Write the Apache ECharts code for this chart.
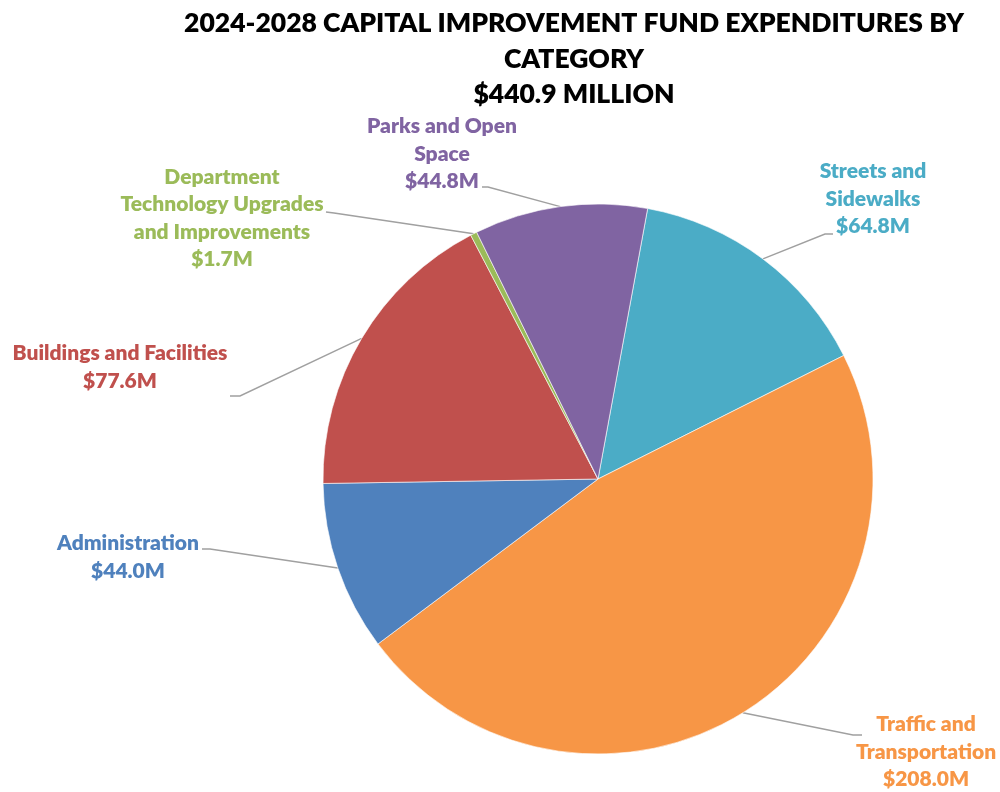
<!DOCTYPE html>
<html>
<head>
<meta charset="utf-8">
<title>2024-2028 Capital Improvement Fund Expenditures by Category</title>
<script src="https://cdn.jsdelivr.net/npm/echarts@6/dist/echarts.min.js"></script>
<style>
  html, body { margin: 0; padding: 0; background: #ffffff; }
  #chart { width: 1000px; height: 792px; }
</style>
</head>
<body>
<div id="chart"></div>
<script>
// Capital improvement fund, five-year totals by category ($ millions)
const categories = [
  'Streets and Sidewalks',
  'Traffic and Transportation',
  'Administration',
  'Buildings and Facilities',
  'Department Technology Upgrades and Improvements',
  'Parks and Open Space'
];
const labelTexts = [
  'Streets and\nSidewalks',
  'Traffic and\nTransportation',
  'Administration',
  'Buildings and Facilities',
  'Department\nTechnology Upgrades\nand Improvements',
  'Parks and Open\nSpace'
];
const values = [64.8, 208.0, 44.0, 77.6, 1.7, 44.8];
const titleLines = [
  '2024-2028 CAPITAL IMPROVEMENT FUND EXPENDITURES BY',
  'CATEGORY',
  '$440.9 MILLION'
];

const colors = ['#4BACC6', '#F79646', '#4F81BD', '#C0504D', '#9BBB59', '#8064A2'];
const FONT = 'Lato, "Open Sans", sans-serif';

// Where each label sits (text centre) and where its leader line bends/ends.
const labelSpots = [
  { x: 873, y: 199, bend: [825, 234], end: [833, 234] },
  { x: 926, y: 752, bend: [853, 735], end: [862, 735] },
  { x: 128, y: 557, bend: [210, 549], end: [202, 549] },
  { x: 120, y: 367, bend: [240, 396], end: [230, 396] },
  { x: 222, y: 218, bend: [334, 213], end: [326, 212] },
  { x: 442, y: 154, bend: [488, 187], end: [482, 187] }
];

const pieCenter = [598, 479];
const pieRadius = 275;
const total = values.reduce((a, b) => a + b, 0);
// First slice begins just right of twelve o'clock
const startAngle = 79.6;

function midPoint(i) {
  let before = 0;
  for (let k = 0; k < i; k++) before += values[k];
  const midDeg = startAngle - (before + values[i] / 2) / total * 360;
  const rad = midDeg * Math.PI / 180;
  return [pieCenter[0] + pieRadius * Math.cos(rad), pieCenter[1] - pieRadius * Math.sin(rad)];
}

const chart = echarts.init(document.getElementById('chart'), null, { renderer: 'canvas' });

chart.setOption({
  backgroundColor: '#ffffff',
  animation: false,
  title: {
    text: titleLines.join('\n'),
    left: 569,
    top: 1,
    textAlign: 'center',
    textStyle: {
      fontFamily: FONT,
      fontWeight: 800,
      fontSize: 26.5,
      lineHeight: 35.5,
      color: '#000000'
    }
  },
  series: [{
    type: 'pie',
    center: pieCenter,
    radius: pieRadius,
    startAngle: startAngle,
    clockwise: true,
    avoidLabelOverlap: false,
    data: values.map((v, i) => ({
      name: categories[i],
      value: v,
      itemStyle: { color: colors[i] },
      label: { color: colors[i] }
    })),
    itemStyle: { borderColor: '#ffffff', borderWidth: 0.6 },
    label: {
      show: true,
      position: 'outside',
      formatter: p => labelTexts[p.dataIndex] + '\n$' + p.value.toFixed(1) + 'M',
      fontFamily: FONT,
      fontWeight: 800,
      fontSize: 21,
      lineHeight: 27.5,
      align: 'center'
    },
    labelLine: {
      show: true,
      length: 20,
      length2: 10,
      lineStyle: { color: '#a0a0a0', width: 1.4 }
    },
    labelLayout: function (params) {
      const s = labelSpots[params.dataIndex];
      const start = (params.labelLinePoints && params.labelLinePoints[0]) || midPoint(params.dataIndex);
      return {
        x: s.x,
        y: s.y,
        align: 'center',
        verticalAlign: 'middle',
        labelLinePoints: [start, s.bend, s.end]
      };
    },
    emphasis: { disabled: true }
  }]
});
</script>
</body>
</html>
